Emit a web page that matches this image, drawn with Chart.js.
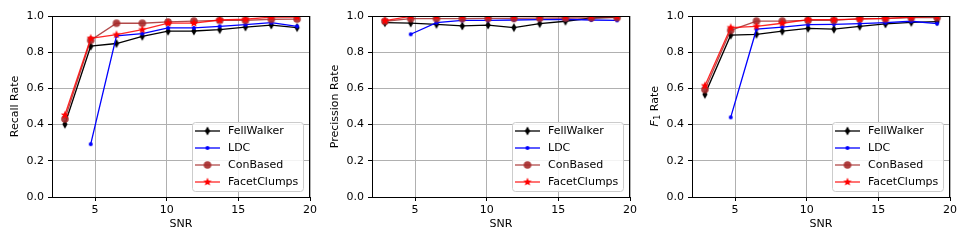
<!DOCTYPE html>
<html>
<head>
<meta charset="utf-8">
<script src="https://cdn.jsdelivr.net/npm/chart.js@4/dist/chart.umd.min.js"></script>
<style>
html,body{margin:0;padding:0;background:#fff;}
#wrap{position:relative;width:969px;height:242px;overflow:hidden;}
.pane{position:absolute;top:0;width:320px;height:242px;}
</style>
</head>
<body>
<div id="wrap">
  <div class="pane" style="left:0px"><canvas id="c0"></canvas></div>
  <div class="pane" style="left:320px"><canvas id="c1"></canvas></div>
  <div class="pane" style="left:640px"><canvas id="c2"></canvas></div>
</div>
<script>
// ---- data ----
const snr = [2.9, 4.7, 6.5, 8.3, 10.1, 11.9, 13.7, 15.5, 17.3, 19.1];
const seriesNames = ['FellWalker', 'LDC', 'ConBased', 'FacetClumps'];
const xTicks = [5, 10, 15, 20];
const yTicks = [0, 0.2, 0.4, 0.6, 0.8, 1.0];

const recallFellWalker  = [0.402, 0.833, 0.848, 0.888, 0.916, 0.917, 0.925, 0.939, 0.950, 0.936];
const recallLDC         = [null, 0.292, 0.890, 0.903, 0.934, 0.934, 0.943, 0.952, 0.963, 0.943];
const recallConBased    = [0.431, 0.866, 0.960, 0.960, 0.967, 0.972, 0.976, 0.976, 0.982, 0.983];
const recallFacetClumps = [0.453, 0.877, 0.897, 0.925, 0.961, 0.961, 0.978, 0.982, 0.994, 0.994];

const precFellWalker  = [0.963, 0.961, 0.954, 0.945, 0.950, 0.936, 0.958, 0.971, 0.989, 0.994];
const precLDC         = [null, 0.899, 0.963, 0.976, 0.976, 0.978, 0.980, 0.982, 0.978, 0.976];
const precConBased    = [0.971, 0.985, 0.986, 0.986, 0.987, 0.987, 0.988, 0.989, 0.990, 0.991];
const precFacetClumps = [0.974, 0.998, 0.998, 0.998, 0.998, 0.998, 0.998, 0.998, 0.998, 0.998];

const f1FellWalker  = [0.567, 0.894, 0.899, 0.916, 0.932, 0.927, 0.943, 0.956, 0.965, 0.969];
const f1LDC         = [null, 0.440, 0.927, 0.939, 0.952, 0.954, 0.958, 0.963, 0.971, 0.958];
const f1ConBased    = [0.594, 0.921, 0.972, 0.972, 0.976, 0.976, 0.985, 0.985, 0.991, 0.991];
const f1FacetClumps = [0.615, 0.936, 0.943, 0.960, 0.980, 0.980, 0.983, 0.987, 0.994, 0.998];

const yTitles = ['Recall Rate', 'Precission Rate', 'F1 Rate'];
const xTitle = 'SNR';

// ---- styling ----
const FONT = 'DejaVu Sans';
const FS = 11;

function markerCanvas(kind, color) {
  const s = 12, c = document.createElement('canvas');
  c.width = s; c.height = s;
  const g = c.getContext('2d');
  g.fillStyle = color;
  const cx = s / 2, cy = s / 2;
  g.beginPath();
  if (kind === 'thindiamond') {
    g.moveTo(cx, cy - 4.5); g.lineTo(cx + 2.6, cy); g.lineTo(cx, cy + 4.5); g.lineTo(cx - 2.6, cy); g.closePath();
  } else if (kind === 'dot') {
    g.arc(cx, cy, 2.0, 0, Math.PI * 2);
  } else if (kind === 'circle') {
    g.arc(cx, cy, 3.8, 0, Math.PI * 2);
  } else if (kind === 'star') {
    const R = 4.4, r = 1.9;
    for (let i = 0; i < 10; i++) {
      const rad = i % 2 === 0 ? R : r;
      const a = -Math.PI / 2 + i * Math.PI / 5;
      const px = cx + rad * Math.cos(a), py = cy + rad * Math.sin(a);
      if (i === 0) g.moveTo(px, py); else g.lineTo(px, py);
    }
    g.closePath();
  }
  g.fill();
  return c;
}

const styles = [
  { line: '#000000', marker: markerCanvas('thindiamond', '#000000'), order: 3 },
  { line: '#0000ff', marker: markerCanvas('dot', '#0000ff'), order: 2 },
  { line: 'rgba(165,42,42,0.85)', marker: markerCanvas('circle', 'rgba(165,42,42,0.9)'), order: 1 },
  { line: 'rgba(255,0,0,0.85)', marker: markerCanvas('star', '#ff0000'), order: 0 }
];

function toPoints(vals) {
  return snr.map((x, i) => ({ x: x, y: vals[i] }));
}

const framePlugin = {
  id: 'frameLegend',
  afterDatasetsDraw(chart) {
    const ctx = chart.ctx, a = chart.chartArea;
    ctx.save();
    // frame (all four spines)
    ctx.strokeStyle = '#000';
    ctx.lineWidth = 1;
    ctx.strokeRect(Math.round(a.left) + 0.5, Math.round(a.top) + 0.5,
                   Math.round(a.right - a.left) - 1 + 0, Math.round(a.bottom - a.top) - 0);
    // legend
    const bl = a.right - 118, bt = a.bottom - 75, bw = 111, bh = 69;
    ctx.beginPath();
    ctx.roundRect(bl + 0.5, bt + 0.5, bw, bh, 3);
    ctx.fillStyle = 'rgba(255,255,255,0.85)';
    ctx.fill();
    ctx.strokeStyle = '#cccccc';
    ctx.stroke();
    ctx.font = FS + 'px "' + FONT + '"';
    ctx.textBaseline = 'middle';
    ctx.textAlign = 'left';
    chart.data.datasets.forEach((ds, i) => {
      const y = bt + 9 + i * 17;
      ctx.strokeStyle = ds.borderColor;
      ctx.lineWidth = 1.3;
      ctx.beginPath();
      ctx.moveTo(bl + 3, y); ctx.lineTo(bl + 28, y);
      ctx.stroke();
      const m = ds.pointStyle;
      ctx.drawImage(m, bl + 15.5 - m.width / 2, y - m.height / 2);
      ctx.fillStyle = '#000';
      ctx.fillText(ds.label, bl + 36, y + 0.5);
    });
    ctx.restore();
  },
  afterDraw(chart) {
    const ctx = chart.ctx, a = chart.chartArea;
    const t = chart.options.plugins.frameLegend.ytitle;
    const cy = (a.top + a.bottom) / 2;
    ctx.save();
    ctx.translate(15, cy);
    ctx.rotate(-Math.PI / 2);
    ctx.fillStyle = '#000';
    ctx.textBaseline = 'middle';
    ctx.textAlign = 'left';
    if (t === 'F1 Rate') {
      const fF = 'italic ' + FS + 'px "' + FONT + '"';
      const fS = '8px "' + FONT + '"';
      const fR = FS + 'px "' + FONT + '"';
      ctx.font = fF; const w1 = ctx.measureText('F').width;
      ctx.font = fS; const w2 = ctx.measureText('1').width;
      ctx.font = fR; const w3 = ctx.measureText(' Rate').width;
      let x = -(w1 + w2 + w3) / 2;
      ctx.font = fF; ctx.fillText('F', x, 0); x += w1 + 0.5;
      ctx.font = fS; ctx.fillText('1', x, 3); x += w2;
      ctx.font = fR; ctx.fillText(' Rate', x, 0);
    } else {
      ctx.font = FS + 'px "' + FONT + '"';
      ctx.textAlign = 'center';
      ctx.fillText(t, 0, 0);
    }
    ctx.restore();
  }
};

function makeChart(id, ytitle, series) {
  const datasets = series.map((vals, i) => ({
    label: seriesNames[i],
    data: toPoints(vals),
    borderColor: styles[i].line,
    backgroundColor: styles[i].line,
    borderWidth: 1.3,
    pointStyle: styles[i].marker,
    pointRadius: 4,
    pointHoverRadius: 4,
    order: styles[i].order,
    tension: 0,
    spanGaps: false
  }));
  return new Chart(document.getElementById(id), {
    type: 'line',
    data: { datasets },
    options: {
      responsive: false,
      animation: false,
      devicePixelRatio: 1,
      layout: { padding: { top: 16, right: 10, left: 0, bottom: 0 } },
      plugins: {
        legend: { display: false },
        tooltip: { enabled: false },
        frameLegend: { ytitle: ytitle }
      },
      scales: {
        x: {
          type: 'linear',
          min: 2, max: 20,
          afterBuildTicks: (s) => { s.ticks = xTicks.map(v => ({ value: v })); },
          afterFit: (s) => { s.height = 45; },
          ticks: {
            color: '#000', padding: 3,
            font: { family: FONT, size: FS },
            callback: (v) => String(v), maxRotation: 0, autoSkip: false
          },
          grid: { color: '#b0b0b0', lineWidth: 1, tickLength: 4, tickColor: '#000', drawTicks: true },
          border: { color: '#000', width: 1 },
          title: { display: true, text: xTitle, color: '#000', font: { family: FONT, size: FS }, padding: { top: 0, bottom: 11 } }
        },
        y: {
          type: 'linear',
          min: 0, max: 1,
          afterBuildTicks: (s) => { s.ticks = yTicks.map(v => ({ value: v })); },
          afterFit: (s) => { s.width = 52; },
          ticks: {
            color: '#000', padding: 4,
            font: { family: FONT, size: FS },
            callback: (v) => Number(v).toFixed(1)
          },
          grid: { color: '#b0b0b0', lineWidth: 1, tickLength: 4, tickColor: '#000', drawTicks: true },
          border: { color: '#000', width: 1 },
          title: { display: false, text: ytitle }
        }
      }
    },
    plugins: [framePlugin]
  });
}

['c0', 'c1', 'c2'].forEach(id => {
  const c = document.getElementById(id);
  c.width = 320; c.height = 242;
  c.style.width = '320px'; c.style.height = '242px';
});

makeChart('c0', yTitles[0], [recallFellWalker, recallLDC, recallConBased, recallFacetClumps]);
makeChart('c1', yTitles[1], [precFellWalker, precLDC, precConBased, precFacetClumps]);
makeChart('c2', yTitles[2], [f1FellWalker, f1LDC, f1ConBased, f1FacetClumps]);
</script>
</body>
</html>
